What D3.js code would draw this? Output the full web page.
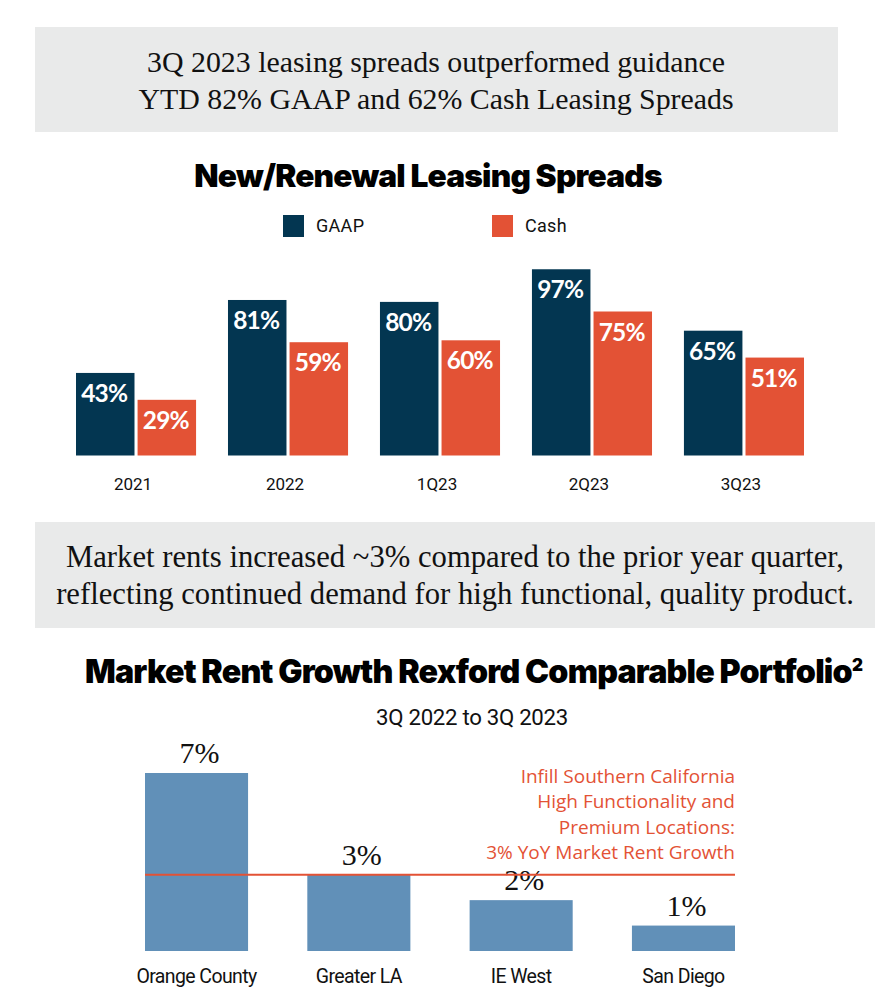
<!DOCTYPE html>
<html>
<head>
<meta charset="utf-8">
<script src="https://cdn.jsdelivr.net/npm/d3@7"></script>
<style>
  html, body { margin: 0; padding: 0; background: #fff; }
  svg { display: block; }
</style>
</head>
<body>
<svg id="chart" width="896" height="1006"></svg>
<script>
// ---------- data ----------
const spreadCategories = ["2021", "2022", "1Q23", "2Q23", "3Q23"];
const gaapValues = [43, 81, 80, 97, 65];
const cashValues = [29, 59, 60, 75, 51];
const seriesNames = ["GAAP", "Cash"];

const marketCategories = ["Orange County", "Greater LA", "IE West", "San Diego"];
const marketValues = [7, 3, 2, 1];
const benchmarkValue = 3;

const banner1Lines = ["3Q 2023 leasing spreads outperformed guidance", "YTD 82% GAAP and 62% Cash Leasing Spreads"];
const banner2Lines = ["Market rents increased ~3% compared to the prior year quarter,", "reflecting continued demand for high functional, quality product."];
const title1 = "New/Renewal Leasing Spreads";
const title2 = "Market Rent Growth Rexford Comparable Portfolio";
const subtitle2 = "3Q 2022 to 3Q 2023";
const annotationLines = ["Infill Southern California", "High Functionality and", "Premium Locations:", "3% YoY Market Rent Growth"];

// ---------- styles ----------
const NAVY = "#033651", ORANGE = "#e35235", BLUE = "#6190b8", GRAY = "#e9eaea";
const serif = "'Liberation Serif', 'Times New Roman', serif";
const sans = "Roboto, 'Noto Sans', sans-serif";
const heavy = "Inter, Roboto, sans-serif";

const svg = d3.select("#chart");

function fitText(sel, targetWidth) {
  sel.each(function () {
    const el = d3.select(this);
    const w = this.getComputedTextLength();
    const fs = parseFloat(el.attr("font-size"));
    el.attr("font-size", (fs * targetWidth / w).toFixed(2));
  });
}

// ---------- banner 1 ----------
svg.append("rect").attr("x", 35).attr("y", 27).attr("width", 803).attr("height", 105).attr("fill", GRAY);
const b1 = svg.selectAll("text.b1").data(banner1Lines).join("text")
  .attr("class", "b1")
  .attr("x", 436).attr("y", (d, i) => 72 + i * 37)
  .attr("text-anchor", "middle").attr("font-family", serif).attr("font-size", 27)
  .attr("fill", "#111").text(d => d);
fitText(b1.filter((d, i) => i === 0), 578);
b1.filter((d, i) => i === 1).attr("font-size", b1.filter((d, i) => i === 0).attr("font-size"));

// ---------- title 1 ----------
const t1 = svg.append("text").attr("x", 428).attr("y", 187)
  .attr("text-anchor", "middle").attr("font-family", heavy).attr("font-weight", 900)
  .attr("font-size", 31).attr("letter-spacing", -0.8).attr("fill", "#000").text(title1);
fitText(t1, 467);

// ---------- legend ----------
const color = d3.scaleOrdinal().domain(seriesNames).range([NAVY, ORANGE]);
const legendX = d3.scaleOrdinal().domain(seriesNames).range([283, 492]);
const lg = svg.selectAll("g.legend").data(seriesNames).join("g")
  .attr("class", "legend").attr("transform", d => `translate(${legendX(d)},215)`);
lg.append("rect").attr("width", 21).attr("height", 22).attr("fill", d => color(d));
lg.append("text").attr("x", 33).attr("y", 17).attr("font-family", sans).attr("font-size", 18)
  .attr("fill", "#111").attr("letter-spacing", 0.3).text(d => d);

// ---------- chart 1 ----------
const c1Base = 455.5;
const x0 = d3.scaleBand().domain(spreadCategories).range([76, 804]).paddingInner(0.21).paddingOuter(0);
const x1 = d3.scaleBand().domain(seriesNames).range([0, x0.bandwidth()]).paddingInner(0.05);
const y1 = d3.scaleLinear().domain([0, 100]).range([c1Base, c1Base - 192]);

const rows = spreadCategories.map((c, i) => ({ cat: c, vals: [
  { s: "GAAP", v: gaapValues[i] }, { s: "Cash", v: cashValues[i] } ] }));

const groups = svg.selectAll("g.grp").data(rows).join("g")
  .attr("class", "grp").attr("transform", d => `translate(${x0(d.cat)},0)`);
groups.selectAll("rect").data(d => d.vals).join("rect")
  .attr("x", d => x1(d.s)).attr("y", d => y1(d.v))
  .attr("width", x1.bandwidth()).attr("height", d => y1(0) - y1(d.v))
  .attr("fill", d => color(d.s));
groups.selectAll("text.val").data(d => d.vals).join("text")
  .attr("class", "val")
  .attr("x", d => x1(d.s) + x1.bandwidth() / 2 - 1).attr("y", d => y1(d.v) + 29)
  .attr("text-anchor", "middle").attr("font-family", "Lato, sans-serif").attr("font-weight", 700)
  .attr("font-size", 24.5).attr("fill", "#fff").attr("letter-spacing", -0.8).text(d => d.v + "%");

const ax1 = d3.axisBottom(x0).tickSize(0).tickPadding(0);
svg.append("g").attr("transform", `translate(0,${c1Base})`).call(ax1)
  .call(g => g.select(".domain").remove())
  .selectAll("text").attr("x", -3).attr("y", 34).attr("dy", 0)
  .attr("font-family", sans).attr("font-size", 17).attr("fill", "#111");

// ---------- banner 2 ----------
svg.append("rect").attr("x", 35).attr("y", 522).attr("width", 840).attr("height", 106).attr("fill", GRAY);
const b2 = svg.selectAll("text.b2").data(banner2Lines).join("text")
  .attr("class", "b2")
  .attr("x", 455).attr("y", (d, i) => 567 + i * 37)
  .attr("text-anchor", "middle").attr("font-family", serif).attr("font-size", 27)
  .attr("fill", "#111").text(d => d);
fitText(b2.filter((d, i) => i === 0), 778);
b2.filter((d, i) => i === 1).attr("font-size", b2.filter((d, i) => i === 0).attr("font-size"));

// ---------- title 2 ----------
const t2 = svg.append("text").attr("x", 85).attr("y", 683)
  .attr("font-family", heavy).attr("font-weight", 900)
  .attr("font-size", 31).attr("letter-spacing", -0.8).attr("fill", "#000");
t2.append("tspan").text(title2);
t2.append("tspan").attr("dy", -12).attr("font-size", 17).attr("letter-spacing", 0).text("2");
fitText(t2, 777);

const st = svg.append("text").attr("x", 472).attr("y", 725).attr("text-anchor", "middle")
  .attr("font-family", sans).attr("font-size", 19).attr("fill", "#111")
  .attr("letter-spacing", -0.3).text(subtitle2);
fitText(st, 191);

// ---------- chart 2 ----------
const c2Base = 951;
const xm = d3.scaleBand().domain(marketCategories).range([145, 735]).paddingInner(0.365).paddingOuter(0);
const ym = d3.scaleLinear().domain([0, 7]).range([c2Base, 773]);

svg.selectAll("rect.mk").data(marketValues).join("rect")
  .attr("class", "mk")
  .attr("x", (d, i) => xm(marketCategories[i])).attr("y", d => ym(d))
  .attr("width", xm.bandwidth()).attr("height", d => ym(0) - ym(d))
  .attr("fill", BLUE);

svg.selectAll("text.mkv").data(marketValues).join("text")
  .attr("class", "mkv")
  .attr("x", (d, i) => xm(marketCategories[i]) + xm.bandwidth() / 2 + 3)
  .attr("y", d => ym(d) - 10)
  .attr("text-anchor", "middle").attr("font-family", serif).attr("font-size", 30)
  .attr("fill", "#111").text(d => d + "%");

// benchmark line
svg.append("line")
  .attr("x1", xm.range()[0]).attr("x2", xm.range()[1])
  .attr("y1", ym(benchmarkValue)).attr("y2", ym(benchmarkValue))
  .attr("stroke", ORANGE).attr("stroke-width", 2);

const ann = svg.selectAll("text.ann").data(annotationLines).join("text")
  .attr("class", "ann")
  .attr("x", xm.range()[1]).attr("y", (d, i) => 783 + i * 25.3)
  .attr("text-anchor", "end").attr("font-family", "'Open Sans', sans-serif").attr("font-size", 18)
  .attr("fill", ORANGE).text(d => d);
fitText(ann.filter((d, i) => i === 3), 249);
ann.attr("font-size", ann.filter((d, i) => i === 3).attr("font-size"));

const ax2 = d3.axisBottom(xm).tickSize(0).tickPadding(0);
svg.append("g").attr("transform", `translate(0,${c2Base})`).call(ax2)
  .call(g => g.select(".domain").remove())
  .selectAll("text").attr("y", 32).attr("dy", 0)
  .attr("font-family", sans).attr("font-size", 19.5).attr("fill", "#111")
  .attr("letter-spacing", -0.6);
</script>
</body>
</html>
